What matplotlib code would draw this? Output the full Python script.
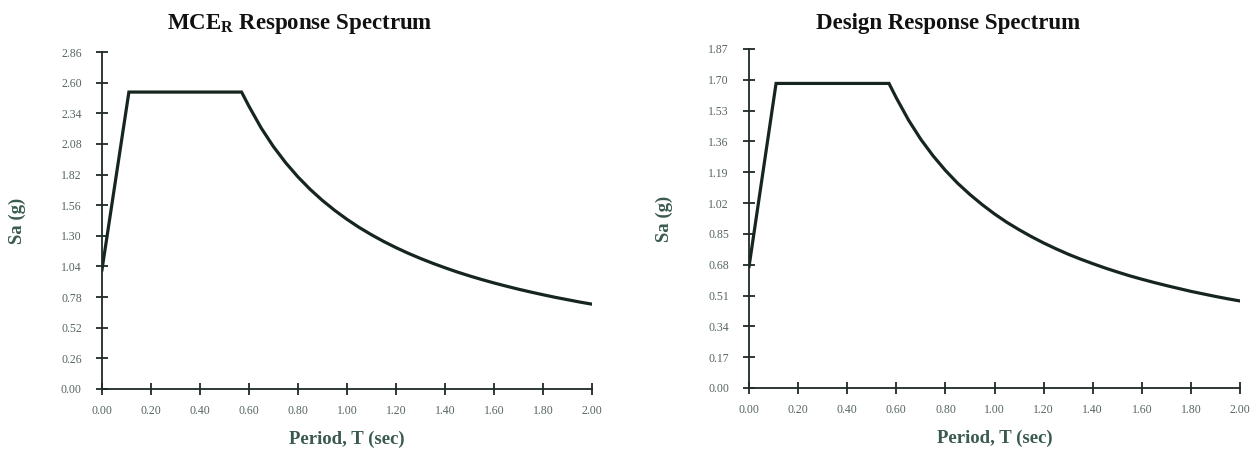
import matplotlib
matplotlib.use("Agg")
import matplotlib.pyplot as plt

# ---- data ----
period = [0.00, 0.11, 0.57, 0.60, 0.65, 0.70, 0.75, 0.80, 0.85, 0.90, 0.95, 1.00,
          1.05, 1.10, 1.15, 1.20, 1.25, 1.30, 1.35, 1.40, 1.45, 1.50, 1.55, 1.60,
          1.65, 1.70, 1.75, 1.80, 1.85, 1.90, 1.95, 2.00]
sa_mce = [1.01, 2.52, 2.52, 2.40, 2.215, 2.057, 1.92, 1.80, 1.694, 1.60, 1.516, 1.44,
          1.371, 1.309, 1.252, 1.20, 1.152, 1.108, 1.067, 1.029, 0.993, 0.96, 0.929, 0.90,
          0.873, 0.847, 0.823, 0.80, 0.778, 0.758, 0.738, 0.72]
sa_design = [0.67, 1.68, 1.68, 1.60, 1.477, 1.371, 1.28, 1.20, 1.129, 1.067, 1.011, 0.96,
             0.914, 0.873, 0.835, 0.80, 0.768, 0.738, 0.711, 0.686, 0.662, 0.64, 0.619, 0.60,
             0.582, 0.565, 0.549, 0.533, 0.519, 0.505, 0.492, 0.48]

x_ticks = [0.00, 0.20, 0.40, 0.60, 0.80, 1.00, 1.20, 1.40, 1.60, 1.80, 2.00]
y_ticks_mce = [0.00, 0.26, 0.52, 0.78, 1.04, 1.30, 1.56, 1.82, 2.08, 2.34, 2.60, 2.86]
y_ticks_design = [0.00, 0.17, 0.34, 0.51, 0.68, 0.85, 1.02, 1.19, 1.36, 1.53, 1.70, 1.87]

titles = [r"MCE$_\mathregular{R}$ Response Spectrum", "Design Response Spectrum"]
x_label = "Period, T (sec)"
y_label = "Sa (g)"

# ---- styling ----
plt.rcParams['font.family'] = ['Liberation Serif', 'DejaVu Serif']
plt.rcParams['mathtext.fontset'] = 'custom'
plt.rcParams['mathtext.rm'] = 'Liberation Serif:bold'
plt.rcParams['mathtext.bf'] = 'Liberation Serif:bold'

line_color = '#16261f'
axis_color = '#1e2a26'
tick_label_color = '#55655f'
label_color = '#3a5a50'

fig = plt.figure(figsize=(12.57, 4.51), dpi=100)
ax1 = fig.add_axes([0.0811, 0.1375, 0.3898, 0.7472])
ax2 = fig.add_axes([0.5959, 0.1397, 0.3906, 0.7517])

title_x = [0.2387, 0.7542]

for ax, sa, yt, title, tx in [(ax1, sa_mce, y_ticks_mce, titles[0], title_x[0]),
                              (ax2, sa_design, y_ticks_design, titles[1], title_x[1])]:
    ax.plot(period, sa, color=line_color, lw=2.3, solid_joinstyle='miter')
    ax.set_xlim(0, 2.0)
    ax.set_ylim(0, yt[-1])
    ax.set_xticks(x_ticks)
    ax.set_xticklabels([f"{v:.2f}" for v in x_ticks])
    ax.set_yticks(yt)
    ax.set_yticklabels([f"{v:.2f}" for v in yt])
    for s in ['top', 'right']:
        ax.spines[s].set_visible(False)
    for s in ['left', 'bottom']:
        ax.spines[s].set_color(axis_color)
        ax.spines[s].set_linewidth(1.3)
    ax.tick_params(direction='inout', length=9, width=1.3, color=axis_color,
                   labelsize=8.5, labelcolor=tick_label_color)
    ax.tick_params(axis='x', pad=7)
    ax.tick_params(axis='y', pad=10)
    fig.text(tx, 0.9357, title, fontsize=16.5, fontweight='bold', color='#111111',
             ha='center', va='baseline')
    ax.set_xlabel(x_label, fontsize=13.5, fontweight='bold', color=label_color, va='center')
    ax.xaxis.set_label_coords(0.5, -0.148)
    ax.set_ylabel(y_label, fontsize=13.5, fontweight='bold', color=label_color, va='center')
    ax.yaxis.set_label_coords(-0.173, 0.5)

fig.savefig("out.png", dpi=100, facecolor='white')
